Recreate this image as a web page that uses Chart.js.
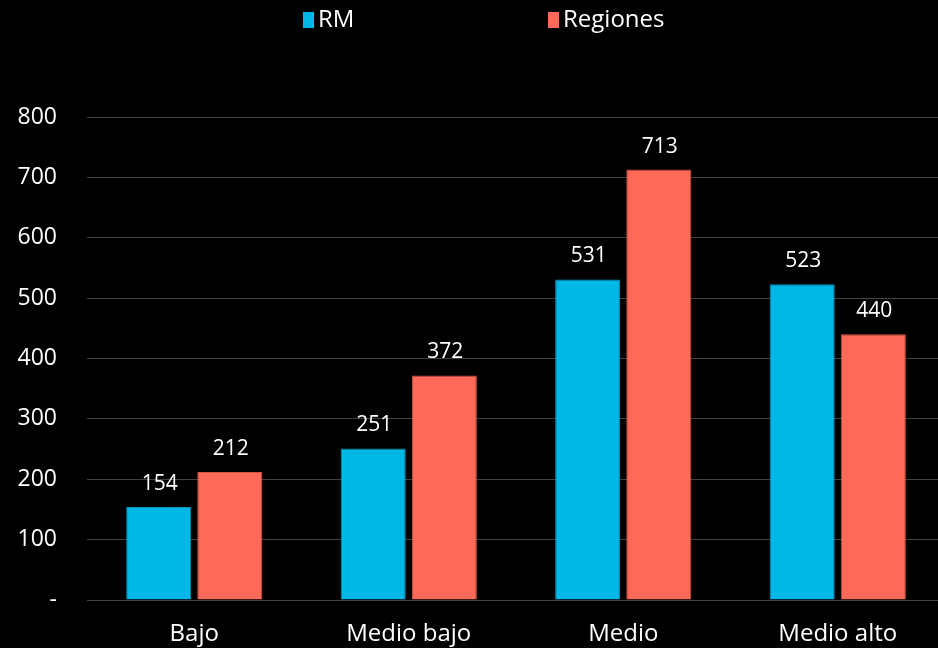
<!DOCTYPE html>
<html>
<head>
<meta charset="utf-8">
<script src="https://cdn.jsdelivr.net/npm/chart.js@4/dist/chart.umd.min.js"></script>
<style>
    html, body { margin: 0; padding: 0; background: #000; overflow: hidden; }
    /* el área del gráfico sigue un poco más allá del borde derecho */
    #wrap { width: 945px; height: 648px; }
</style>
</head>
<body>
<div id="wrap"><canvas id="nivelChart"></canvas></div>
<script>
// categorías y valores
const categorias = ['Bajo', 'Medio bajo', 'Medio', 'Medio alto'];
const valoresRM = [154, 251, 531, 523];
const valoresRegiones = [212, 372, 713, 440];
const serieNombres = ['RM', 'Regiones'];
const yTicks = [0, 100, 200, 300, 400, 500, 600, 700, 800];

const FONT = "'Open Sans', 'DejaVu Sans', sans-serif";

// etiquetas de valor encima de cada barra
const valueLabels = {
    id: 'valueLabels',
    afterDatasetsDraw(chart) {
        const ctx = chart.ctx;
        ctx.save();
        ctx.fillStyle = '#ffffff';
        ctx.font = '21px ' + FONT;
        ctx.textAlign = 'center';
        ctx.textBaseline = 'middle';
        chart.data.datasets.forEach((ds, i) => {
            chart.getDatasetMeta(i).data.forEach((bar, j) => {
                ctx.fillText(ds.data[j], bar.x + 1, bar.y - 23);
            });
        });
        ctx.restore();
    }
};

// leyenda simple arriba
const topLegend = {
    id: 'topLegend',
    afterDraw(chart) {
        const ctx = chart.ctx;
        ctx.save();
        ctx.font = '24px ' + FONT;
        ctx.textBaseline = 'middle';
        let x = 303;
        const y = 20;
        chart.data.datasets.forEach((ds) => {
            ctx.fillStyle = ds.backgroundColor;
            ctx.fillRect(x, y - 8, 11, 16);
            ctx.fillStyle = '#ffffff';
            ctx.fillText(ds.label, x + 15, y);
            x += 245;
        });
        ctx.restore();
    }
};

const ctx = document.getElementById('nivelChart').getContext('2d');
new Chart(ctx, {
    type: 'bar',
    data: {
        labels: categorias,
        datasets: [{
            label: serieNombres[0],
            data: valoresRM,
            backgroundColor: '#00b7e6',
            borderColor: '#0096bd',
            borderWidth: 1,
            categoryPercentage: 0.663,
            barPercentage: 0.915
        }, {
            label: serieNombres[1],
            data: valoresRegiones,
            backgroundColor: '#ff6958',
            borderColor: '#d85545',
            borderWidth: 1,
            categoryPercentage: 0.663,
            barPercentage: 0.915
        }]
    },
    options: {
        responsive: true,
        maintainAspectRatio: false,
        animation: false,
        layout: { padding: { top: 117, bottom: 0, left: 0, right: 0 } },
        plugins: {
            legend: { display: false },
            tooltip: { enabled: false }
        },
        scales: {
            x: {
                afterFit: function (scale) { scale.height = 48; },
                grid: { display: false, drawTicks: false },
                border: { display: false },
                ticks: {
                    color: '#ffffff',
                    font: { family: FONT, size: 24 },
                    padding: 20
                }
            },
            y: {
                min: 0,
                max: 800,
                afterFit: function (scale) { scale.width = 87; },
                afterBuildTicks: function (scale) {
                    scale.ticks = yTicks.map(v => ({ value: v }));
                },
                grid: { color: '#424242', lineWidth: 1, drawTicks: false },
                border: { display: false },
                ticks: {
                    color: '#ffffff',
                    font: { family: FONT, size: 23 },
                    padding: 30,
                    callback: function (value) {
                        return value === 0 ? '-' : value;
                    }
                }
            }
        }
    },
    plugins: [valueLabels, topLegend]
});
</script>
</body>
</html>
